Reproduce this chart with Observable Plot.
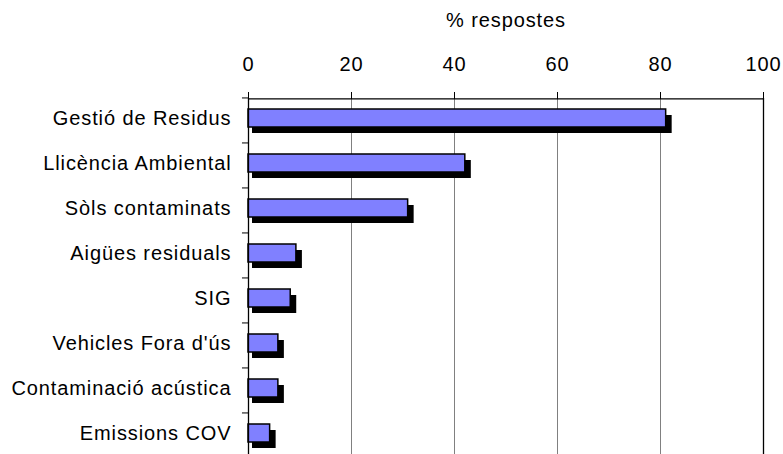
<!DOCTYPE html>
<html>
<head>
<meta charset="utf-8">
<script src="https://cdn.jsdelivr.net/npm/d3@7"></script>
<script src="https://cdn.jsdelivr.net/npm/@observablehq/plot@0.6"></script>
<style>
  html, body { margin: 0; padding: 0; background: #fff; overflow: hidden; }
  #chart svg { display: block; }
</style>
</head>
<body>
<div id="chart"></div>
<script>
const categories = ["Gestió de Residus", "Llicència Ambiental", "Sòls contaminats", "Aigües residuals", "SIG", "Vehicles Fora d'ús", "Contaminació acústica", "Emissions COV"];
const values = [81.1, 42.1, 31.0, 9.3, 8.2, 5.8, 5.8, 4.2];
const xTicks = [0, 20, 40, 60, 80, 100];
const gridTicks = [20, 40, 60, 80];
const axisLabel = "% respostes";

const data = categories.map((c, i) => ({category: c, value: values[i]}));

const yTop = 97, yBottom = 458;
const step = (yBottom - yTop) / categories.length;

const chart = Plot.plot({
  width: 783,
  height: 454,
  marginTop: 98,
  marginLeft: 248,
  marginRight: 20,
  marginBottom: 0,
  style: {
    fontFamily: "'Liberation Sans', Arial, sans-serif",
    fontSize: "20px",
    letterSpacing: "0.9px",
    background: "#fff",
    color: "#000",
    overflow: "visible"
  },
  x: {domain: [0, 100]},
  y: {domain: categories, range: [yTop, yBottom], paddingInner: 0.6, paddingOuter: 0.3},
  marks: [
    Plot.ruleX(gridTicks, {stroke: "#808080", strokeWidth: 1}),
    Plot.barX(data, {y: "category", x: "value", fill: "#000", dx: 6, dy: 4, insetLeft: -2}),
    Plot.barX(data, {y: "category", x: "value", fill: "#8080FF", stroke: "#000", strokeWidth: 1.5, dy: -2}),
    Plot.ruleX([0, 100], {stroke: "#000", strokeWidth: 1.3}),
    Plot.ruleY(categories, {y: d => d, x1: -1.17, x2: 0, dy: -step / 2, stroke: "#000"}),
    Plot.ruleY([categories[0]], {y: d => d, x1: 0, x2: 100, dy: -step / 2 + 1, stroke: "#000", strokeWidth: 1.2}),
    Plot.axisX({anchor: "top", ticks: xTicks, tickSize: 7, tickPadding: 21, label: null, tickFormat: d => String(d)}),
    Plot.axisY({anchor: "left", tickSize: 0, tickPadding: 17, label: null, dy: -2}),
    Plot.text([axisLabel], {frameAnchor: "top", dy: -78.4, lineAnchor: "middle", fontSize: 20})
  ]
});
document.getElementById("chart").appendChild(chart);
</script>
</body>
</html>
